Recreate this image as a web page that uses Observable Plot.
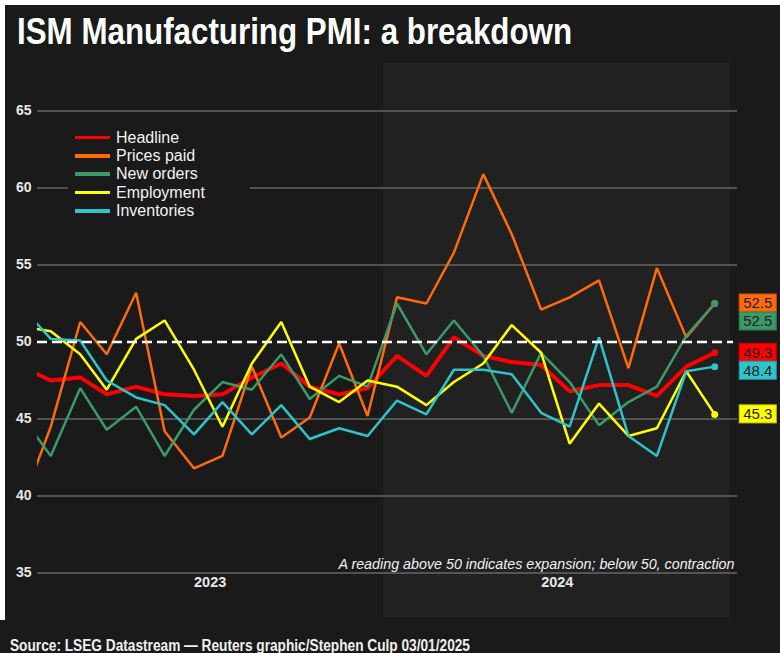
<!DOCTYPE html>
<html>
<head>
<meta charset="utf-8">
<script src="https://cdn.jsdelivr.net/npm/d3@7"></script>
<script src="https://cdn.jsdelivr.net/npm/@observablehq/plot@0.6"></script>
<style>
  html, body { margin: 0; padding: 0; background: #1a1a1a; }
  #wrap { position: relative; width: 780px; height: 653px; background: #1a1a1a; overflow: hidden;
          font-family: "Liberation Sans", Arial, sans-serif; color: #f0f0f0; }
  #title { height: 62px; box-sizing: border-box; padding: 14px 0 0 17px; }
  #title span { display: inline-block; transform: scaleX(0.87); transform-origin: 0 50%;
           font-weight: bold; font-size: 36px; line-height: 36px; color: #ffffff; white-space: nowrap; }
  #chart svg { display: block; }
  #source { height: 31px; box-sizing: border-box; padding: 15px 0 0 10px; }
  #source span { display: inline-block; transform: scaleX(0.855); transform-origin: 0 50%;
            font-size: 16px; line-height: 16px; font-weight: bold; color: #f0f0f0; white-space: nowrap; }
  #legend { position: absolute; left: 68px; top: 128.5px; width: 182px; background: #1a1a1a; padding: 0 0 2px 0; }
  .item { display: flex; align-items: center; height: 18.3px; font-size: 16px; color: #f2f2f2; }
  .sw { width: 35px; height: 3.5px; margin-left: 7px; margin-right: 6px; }
  .edge-top { position: absolute; left: 0; top: 0; width: 780px; height: 5px; background: #fff; }
  .edge-left { position: absolute; left: 0; top: 0; width: 5px; height: 620px; background: #fff; }
</style>
</head>
<body>
<div id="wrap">
  <div id="title"><span>ISM Manufacturing PMI: a breakdown</span></div>
  <div id="chart"></div>
  <div id="source"><span>Source: LSEG Datastream — Reuters graphic/Stephen Culp 03/01/2025</span></div>
  <div id="legend"></div>
  <div class="edge-top"></div>
  <div class="edge-left"></div>
</div>
<script>
// ---- data ----
const months = ["2022-12","2023-01","2023-02","2023-03","2023-04","2023-05","2023-06","2023-07","2023-08","2023-09","2023-10","2023-11","2023-12",
                "2024-01","2024-02","2024-03","2024-04","2024-05","2024-06","2024-07","2024-08","2024-09","2024-10","2024-11","2024-12"];
const headline    = [48.4, 47.5, 47.7, 46.6, 47.1, 46.6, 46.5, 46.6, 47.7, 48.6, 47.1, 46.6, 47.0, 49.1, 47.8, 50.3, 49.1, 48.7, 48.5, 46.8, 47.2, 47.2, 46.5, 48.4, 49.3];
const pricesPaid  = [39.4, 44.5, 51.3, 49.2, 53.2, 44.2, 41.8, 42.6, 48.4, 43.8, 45.1, 49.9, 45.2, 52.9, 52.5, 55.8, 60.9, 57.0, 52.1, 52.9, 54.0, 48.3, 54.8, 50.3, 52.5];
const newOrders   = [45.2, 42.6, 47.0, 44.3, 45.8, 42.6, 45.6, 47.4, 46.9, 49.2, 46.3, 47.8, 47.1, 52.5, 49.2, 51.4, 49.1, 45.4, 49.3, 47.4, 44.6, 46.1, 47.1, 50.4, 52.5];
const employment  = [51.0, 50.7, 49.2, 46.9, 50.2, 51.4, 48.2, 44.5, 48.6, 51.3, 47.1, 46.1, 47.5, 47.1, 45.9, 47.4, 48.6, 51.1, 49.3, 43.4, 46.0, 43.9, 44.4, 48.1, 45.3];
const inventories = [52.3, 50.2, 50.1, 47.5, 46.4, 45.9, 44.0, 46.1, 44.0, 45.9, 43.7, 44.4, 43.9, 46.2, 45.3, 48.2, 48.2, 47.9, 45.4, 44.5, 50.3, 43.9, 42.6, 48.1, 48.4];
const seriesNames  = ["Headline", "Prices paid", "New orders", "Employment", "Inventories"];
const seriesColors = ["#ff0000", "#ff6a0a", "#3a9a68", "#ffff00", "#2ec4cc"];
const yTicks = [35, 40, 45, 50, 55, 60, 65];
const years = ["2023", "2024"];
const shadedYear = "2024";
const note = "A reading above 50 indicates expansion; below 50, contraction";

// ---- build ----
const seriesValues = [headline, pricesPaid, newOrders, employment, inventories];
const parseMonth = s => { const [y, m] = s.split("-").map(Number); return new Date(Date.UTC(y, m - 1, 15)); };
const rows = seriesNames.flatMap((name, i) => seriesValues[i].map((v, j) => ({series: name, date: parseMonth(months[j]), value: v})));
const last = seriesNames.map((name, i) => ({series: name, color: seriesColors[i], date: parseMonth(months[months.length - 1]), value: seriesValues[i][seriesValues[i].length - 1]}));
const shade = [{x1: new Date(Date.UTC(+shadedYear, 0, 1)), x2: new Date(Date.UTC(+shadedYear + 1, 0, 1))}];
const yearMid = y => new Date(Date.UTC(+y, 6, 2));

const font = "Liberation Sans, Arial, sans-serif";
const lineMarks = seriesNames.map((name, i) =>
  Plot.line(rows.filter(r => r.series === name), {x: "date", y: "value", stroke: seriesColors[i],
    strokeWidth: i === 0 ? 4 : 2.5, clip: true, strokeLinejoin: "miter", strokeLinecap: "butt"}));

const plot = Plot.plot({
  width: 780, height: 560,
  marginLeft: 37, marginRight: 43, marginTop: 48.5, marginBottom: 49.5,
  style: {background: "transparent", color: "#e8e8e8", fontFamily: font, overflow: "visible"},
  x: {type: "time", domain: [new Date(Date.UTC(2023, 0, 1)), new Date(Date.UTC(2025, 0, 8))], axis: null},
  y: {domain: [35, 65], axis: null},
  marks: [
    Plot.rect(shade, {x1: "x1", x2: "x2", fill: "#212121", insetTop: -48, insetBottom: -45}),
    Plot.ruleY(yTicks.filter(t => t !== 50), {stroke: "#666666", strokeWidth: 1.5}),
    Plot.axisY({ticks: yTicks, tickSize: 0, tickPadding: 6, label: null, fontSize: 14, fontWeight: "bold", fill: "#e8e8e8"}),
    Plot.text(years, {x: yearMid, text: d => d, frameAnchor: "bottom", dy: 14, fontSize: 14.5, fontWeight: "bold", fill: "#e8e8e8"}),
    Plot.text([note], {text: d => d, frameAnchor: "bottom-right", textAnchor: "end", lineAnchor: "bottom", dx: -3, dy: -4,
      fontSize: 14.3, fontStyle: "italic", fill: "#f0f0f0"}),
    ...lineMarks,
    Plot.ruleY([50], {stroke: "#ffffff", strokeWidth: 2.5, strokeDasharray: "10,5", insetRight: 4}),
    Plot.dot(last, {x: "date", y: "value", fill: "color", r: 3.5})
  ]
});
document.getElementById("chart").appendChild(plot);

// end-of-line value labels, placed with the plot's own scales and dodged vertically
const xs = plot.scale("x"), ys = plot.scale("y");
const boxH = 18, boxW = 37;
const order = last.map((d, i) => ({...d, i})).sort((a, b) => b.value - a.value || a.i - b.i);
let prev = -Infinity;
order.forEach(d => { d.py = Math.max(ys.apply(d.value), prev + boxH); prev = d.py; });
const g = d3.select(plot).append("g");
order.forEach(d => {
  const x0 = xs.apply(d.date) + 25;
  g.append("rect").attr("x", x0).attr("y", d.py - boxH / 2).attr("width", boxW).attr("height", boxH)
    .attr("fill", d.color).attr("stroke", d3.color(d.color).darker(0.6)).attr("stroke-width", 1);
  g.append("text").attr("x", x0 + boxW / 2).attr("y", d.py).attr("dy", "0.36em").attr("text-anchor", "middle")
    .attr("font-size", 15).attr("font-family", font).attr("fill", "#222").text(d.value.toFixed(1));
});

// legend
const legend = d3.select("#legend");
seriesNames.forEach((name, i) => {
  const it = legend.append("div").attr("class", "item");
  it.append("span").attr("class", "sw").style("background", seriesColors[i]);
  it.append("span").text(name);
});
</script>
</body>
</html>
